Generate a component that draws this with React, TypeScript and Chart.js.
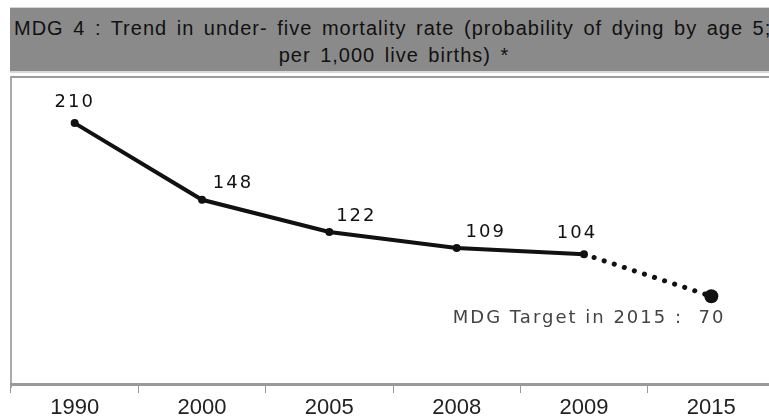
import React, { useEffect, useRef } from "react";
import { Chart, registerables } from "chart.js";

Chart.register(...registerables);

const years = ["1990", "2000", "2005", "2008", "2009", "2015"];
const mortality = [210, 148, 122, 109, 104, 70];
const pointLabels = ["210", "148", "122", "109", "104", "MDG Target in 2015 :  70"];
const titleLine1 = "MDG 4 : Trend in under-  five mortality rate (probability of dying by age 5;";
const titleLine2 = "per 1,000 live births) *";

// label placement (style only): dx, dy, alignment
const labelPlacement: { dx: number; dy: number; align: CanvasTextAlign; color: string }[] = [
  { dx: 0, dy: -21, align: "center", color: "#111" },
  { dx: 31, dy: -16, align: "center", color: "#111" },
  { dx: 27, dy: -16, align: "center", color: "#111" },
  { dx: 29, dy: -16, align: "center", color: "#111" },
  { dx: -7, dy: -21, align: "center", color: "#111" },
  { dx: 14, dy: 22, align: "right", color: "#444" },
];

const labelPlugin = {
  id: "pointLabels",
  afterDatasetsDraw(chart: any) {
    const ctx = chart.ctx;
    const meta = chart.getDatasetMeta(0);
    ctx.save();
    ctx.font = "18px 'DejaVu Sans'";
    try {
      (ctx as any).letterSpacing = "2px";
    } catch (e) {}
    ctx.textBaseline = "middle";
    meta.data.forEach((pt: any, i: number) => {
      const p = labelPlacement[i];
      ctx.fillStyle = p.color;
      ctx.textAlign = p.align;
      ctx.fillText(pointLabels[i], pt.x + p.dx, pt.y + p.dy);
    });
    ctx.restore();
  },
};

export default function App() {
  const ref = useRef<HTMLCanvasElement>(null);
  useEffect(() => {
    if (!ref.current) return;
    const lastIdx = mortality.length - 1;
    const chart = new Chart(ref.current, {
      type: "line",
      data: {
        labels: years,
        datasets: [
          {
            data: mortality,
            borderColor: "#111",
            backgroundColor: "#111",
            borderWidth: 4,
            borderCapStyle: "round",
            pointRadius: mortality.map((_, i) => (i === lastIdx ? 7 : 4)),
            pointBackgroundColor: "#111",
            pointBorderWidth: 0,
            tension: 0,
            segment: {
              borderDash: (c: any) => (c.p1DataIndex === lastIdx ? [0.1, 10.5] : undefined),
              borderWidth: (c: any) => (c.p1DataIndex === lastIdx ? 5 : 4),
            },
          } as any,
        ],
      },
      options: {
        responsive: false,
        animation: false,
        layout: { padding: { left: 11, right: 15, top: 8, bottom: 0 } },
        plugins: { legend: { display: false }, tooltip: { enabled: false }, title: { display: false } },
        scales: {
          x: {
            type: "category",
            offset: true,
            afterFit: (s: any) => {
              s.height = 34;
            },
            border: { display: true, color: "#999", width: 3 },
            grid: {
              display: true,
              offset: true,
              drawOnChartArea: false,
              drawTicks: true,
              tickLength: 9,
              color: "#999",
              lineWidth: 1,
            },
            ticks: {
              color: "#222",
              padding: 2,
              font: { family: "'Liberation Sans'", size: 22 },
              maxRotation: 0,
            },
          },
          y: {
            display: false,
            min: -1,
            max: 240,
          },
        },
      },
      plugins: [labelPlugin],
    });
    return () => chart.destroy();
  }, []);

  return (
    <div
      style={{
        position: "fixed",
        left: 0,
        top: 0,
        width: 769,
        height: 418,
        overflow: "hidden",
        background: "#fff",
      }}
    >
      <div
        style={{
          position: "absolute",
          left: 10,
          top: 7,
          width: 770,
          height: 63,
          background: "#8a8a8a",
          borderTop: "1px solid #d4d4d4",
          borderBottom: "2px solid #d8d8d8",
          color: "#111",
          fontFamily: "'Liberation Sans', sans-serif",
          fontSize: 20,
          letterSpacing: 1,
          wordSpacing: 3,
        }}
      >
        <div style={{ position: "absolute", left: 4, top: 9, whiteSpace: "nowrap" }}>{titleLine1}</div>
        <div
          style={{
            position: "absolute",
            left: 0,
            width: 768,
            top: 36,
            textAlign: "center",
            whiteSpace: "nowrap",
          }}
        >
          {titleLine2}
        </div>
      </div>
      <div
        style={{
          position: "absolute",
          left: 10,
          top: 76,
          width: 800,
          height: 310,
          borderTop: "2px solid #9c9c9c",
          borderLeft: "2px solid #aaa",
        }}
      />
      <canvas
        ref={ref}
        width={790}
        height={340}
        style={{ position: "absolute", left: 0, top: 78, width: 790, height: 340 }}
      />
    </div>
  );
}
